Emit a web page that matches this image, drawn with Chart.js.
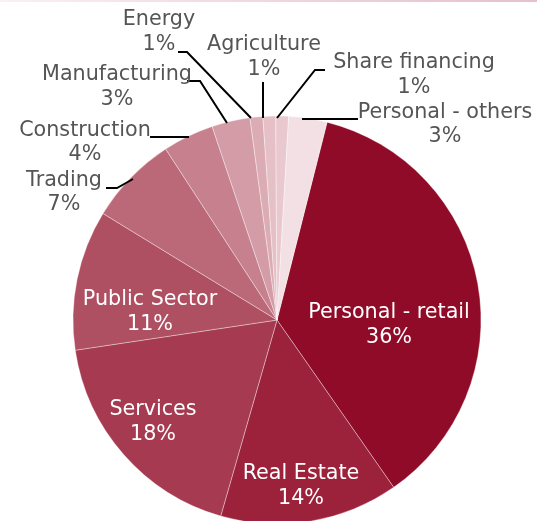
<!DOCTYPE html>
<html>
<head>
<meta charset="utf-8">
<script src="https://cdn.jsdelivr.net/npm/chart.js@4"></script>
<style>
html,body{margin:0;padding:0;background:#fff;overflow:hidden;width:537px;height:521px;}
#topline{position:absolute;left:0;top:0;width:537px;height:2px;background:linear-gradient(to right,#fbf0f4,#f0d6df 50%,#e6c0cd);}
#c{position:absolute;left:0;top:0;}
</style>
</head>
<body>
<div id="topline"></div>
<canvas id="c" width="537" height="540"></canvas>
<script>
const categories = ["Personal - retail","Real Estate","Services","Public Sector","Trading","Construction","Manufacturing","Energy","Agriculture","Share financing","Personal - others"];
const values = [36,14,18,11,7,4,3,1,1,1,3];
const percentLabels = ["36%","14%","18%","11%","7%","4%","3%","1%","1%","1%","3%"];
const colors = ["#8f0b27","#9c213b","#a53a50","#ae4f62","#bb6879","#c6808e","#d39ca6","#dcacb5","#e5c0c7","#e9c9cf","#f3e0e4"];

// label layout (annotation positions, not data)
const labelLayout = [
  {inside:true, x:389, y1:313, y2:338},
  {inside:true, x:301, y1:474, y2:499},
  {inside:true, x:153, y1:410, y2:435},
  {inside:true, x:150, y1:300, y2:325},
  {x:64,  y1:181, y2:205, line:[[106,188],[117,188],[133,179]]},
  {x:85,  y1:131, y2:155, line:[[150,137],[189,137]]},
  {x:117, y1:75,  y2:100, line:[[187,81],[200,81],[227,123]]},
  {x:159, y1:20,  y2:45,  line:[[178,52],[187,52],[251,118]]},
  {x:264, y1:45,  y2:70,  line:[[263,82],[263,118]]},
  {x:414, y1:63,  y2:88,  line:[[325,70],[315,70],[277,118]]},
  {x:445, y1:113, y2:137, line:[[302,119],[358,119]]}
];

const labelPlugin = {
  id:'sliceLabels',
  afterDraw(chart){
    const ctx = chart.ctx;
    ctx.save();
    ctx.font = '20.7px "DejaVu Sans", Verdana, sans-serif';
    ctx.textAlign = 'center';
    ctx.textBaseline = 'middle';
    categories.forEach((cat,i)=>{
      const L = labelLayout[i];
      if (L.line){
        ctx.strokeStyle = '#000';
        ctx.lineWidth = 2;
        ctx.beginPath();
        L.line.forEach((p,j)=> j ? ctx.lineTo(p[0],p[1]) : ctx.moveTo(p[0],p[1]));
        ctx.stroke();
      }
      ctx.fillStyle = L.inside ? '#ffffff' : '#555555';
      ctx.fillText(cat, L.x, L.y1);
      ctx.fillText(percentLabels[i], L.x, L.y2);
    });
    ctx.restore();
  }
};

new Chart(document.getElementById('c'), {
  type:'pie',
  data:{
    labels:categories,
    datasets:[{
      data:values,
      backgroundColor:colors,
      borderColor:'rgba(255,255,255,0.45)',
      borderWidth:0.8
    }]
  },
  options:{
    responsive:false,
    devicePixelRatio:1,
    animation:false,
    rotation:14.2,
    radius:204,
    layout:{padding:{left:73,right:56,top:116,bottom:16}},
    plugins:{legend:{display:false},tooltip:{enabled:false}}
  },
  plugins:[labelPlugin]
});
</script>
</body>
</html>
